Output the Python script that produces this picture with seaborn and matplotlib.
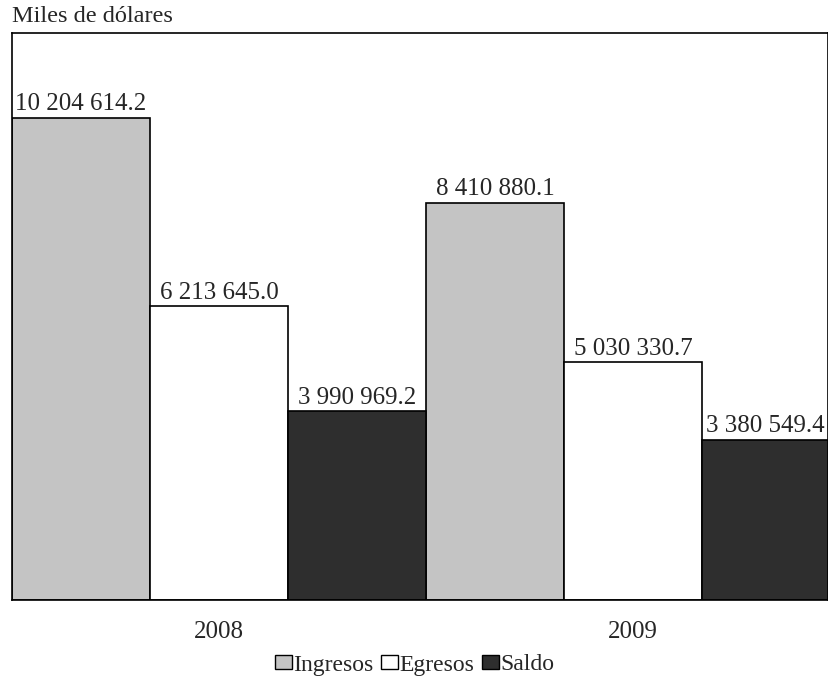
import matplotlib
matplotlib.use("Agg")
import matplotlib.pyplot as plt
import seaborn as sns
import pandas as pd

years = ["2008", "2009"]
series = ["Ingresos", "Egresos", "Saldo"]
ingresos = [10204614.2, 8410880.1]
egresos = [6213645.0, 5030330.7]
saldo = [3990969.2, 3380549.4]
colors = ["#c4c4c4", "#ffffff", "#2e2e2e"]

rows = []
for name, vals in zip(series, [ingresos, egresos, saldo]):
    for y, v in zip(years, vals):
        rows.append({"year": y, "tipo": name, "valor": v})
df = pd.DataFrame(rows)

sns.set_style("white")
plt.rcParams["font.family"] = ["Liberation Serif", "DejaVu Serif"]

fig = plt.figure(figsize=(8.29, 6.83), dpi=100)
ax = fig.add_axes([12 / 829, 83 / 683, 816 / 829, 567 / 683])

sns.barplot(data=df, x="year", y="valor", hue="tipo", hue_order=series,
            palette=colors, width=1.0, gap=0, edgecolor="black", linewidth=1.2,
            saturation=1, ax=ax, legend=False)

def fmt(v):
    return f"{v:,.1f}".replace(",", " ")

# the last bar is cut by the right edge of the frame
xmax = 1.471
ax.set_xlim(-0.5, xmax)
ax.set_ylim(0, 12000000)

for cont, vals in zip(ax.containers, [ingresos, egresos, saldo]):
    texts = ax.bar_label(cont, labels=[fmt(v) for v in vals], padding=2, fontsize=18)
    for bar, t in zip(cont, texts):
        x0 = bar.get_x()
        x1 = min(x0 + bar.get_width(), xmax)
        t.xy = ((x0 + x1) / 2, t.xy[1])

ax.set_yticks([])
ax.set_xlabel("")
ax.set_ylabel("")
ax.tick_params(axis="x", length=0, pad=15, labelsize=18)
for s in ["left", "top", "bottom", "right"]:
    ax.spines[s].set_visible(True)
    ax.spines[s].set_color("black")
    ax.spines[s].set_linewidth(1.2)

fig.text(12 / 829, 1 - 17 / 683, "Miles de dólares", fontsize=17.5,
         ha="left", va="center")

handles = [plt.Rectangle((0, 0), 1, 1, facecolor=c, edgecolor="black", linewidth=1)
           for c in colors]
fig.legend(handles, series, loc="center", bbox_to_anchor=(0.5, 18 / 683),
           ncol=3, frameon=False, fontsize=17, handlelength=0.75,
           handleheight=0.55, handletextpad=0.05, columnspacing=0.3,
           borderpad=0)

fig.savefig("out.png", dpi=100)
